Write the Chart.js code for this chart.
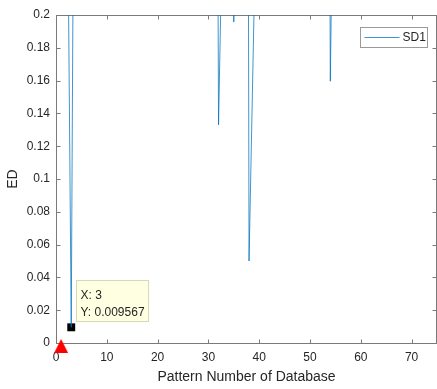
<!DOCTYPE html>
<html>
<head>
<meta charset="utf-8">
<script src="https://cdn.jsdelivr.net/npm/chart.js@4"></script>
<style>
  html, body { margin: 0; padding: 0; background: #fff; }
</style>
</head>
<body>
<canvas id="edGrafico" width="437" height="389"></canvas>
<script>
// pattern numbers and ED values (most sit above the 0.2 limit and get clipped)
const patternNo = [
   2,  3,  4,  5,  6,  7,  8,  9, 10, 11, 12, 13, 14, 15, 16, 17, 18, 19, 20,
  21, 22, 23, 24, 25, 26, 27, 28, 29, 30, 31, 32, 33, 34, 35, 36, 37, 38, 39,
  40, 41, 42, 43, 44, 45, 46, 47, 48, 49, 50, 51, 52, 53, 54, 55, 56, 57, 58,
  59, 60, 61, 62, 63, 64, 65, 66, 67, 68, 69, 70, 71, 72, 73, 74
];
const edValues = [
  0.38, 0.009567, 0.6, 0.85, 1.1, 0.9, 1.2, 0.95, 1.05, 0.8, 1.3, 1.0, 0.9, 1.15, 0.7, 0.95, 1.25, 1.0, 0.85,
  1.1, 0.9, 1.2, 0.75, 1.0, 1.3, 0.95, 1.1, 0.8, 1.05, 0.9, 0.133, 0.3, 0.7, 0.1957, 0.65, 1.5, 0.05, 0.205,
  0.8, 1.0, 1.2, 0.9, 1.1, 0.85, 1.25, 0.95, 1.05, 0.8, 1.15, 0.9, 1.2, 1.0, 0.1596, 0.4, 0.9, 1.1, 0.85,
  1.2, 0.95, 1.05, 0.8, 1.3, 1.0, 0.9, 1.15, 0.75, 1.05, 1.2, 0.9, 1.0, 0.85, 1.1, 0.95
];
const xTicks = [0, 10, 20, 30, 40, 50, 60, 70];
const yTicks = [0, 0.02, 0.04, 0.06, 0.08, 0.1, 0.12, 0.14, 0.16, 0.18, 0.2];
const queryPoint = [1, 0];
const tipPoint = [3, 0.009567];

const axisColor = '#7a7a7a';
const textColor = '#262626';
const lineColor = 'rgba(0, 114, 189, 0.75)';
Chart.defaults.font.family = "'Liberation Sans', Arial, sans-serif";
Chart.defaults.font.size = 12;
Chart.defaults.color = textColor;

// red triangle marker, drawn a bit below its centre like the original
const tri = document.createElement('canvas');
tri.width = 14;
tri.height = 28;
const tc = tri.getContext('2d');
tc.fillStyle = '#ff0000';
tc.beginPath();
tc.moveTo(7, 10);
tc.lineTo(14, 24);
tc.lineTo(0, 24);
tc.closePath();
tc.fill();

const moldura = {
  id: 'moldura',
  beforeDatasetsDraw(chart) {
    const ctx = chart.ctx;
    const a = chart.chartArea;
    const L = Math.round(a.left) + 0.5, R = Math.round(a.right) - 0.5;
    const T = Math.round(a.top) + 0.5, B = Math.round(a.bottom) + 0.5;
    ctx.save();
    ctx.strokeStyle = axisColor;
    ctx.lineWidth = 1;
    ctx.strokeRect(L, T, R - L, B - T);
    ctx.beginPath();
    xTicks.forEach(v => {
      const px = Math.round(chart.scales.x.getPixelForValue(v)) + 0.5;
      ctx.moveTo(px, B); ctx.lineTo(px, B - 4);
      ctx.moveTo(px, T); ctx.lineTo(px, T + 4);
    });
    yTicks.forEach(v => {
      const py = Math.round(chart.scales.y.getPixelForValue(v)) + 0.5;
      ctx.moveTo(L, py); ctx.lineTo(L + 4, py);
      ctx.moveTo(R, py); ctx.lineTo(R - 4, py);
    });
    ctx.stroke();
    ctx.restore();
  },
  afterDraw(chart) {
    const ctx = chart.ctx;
    const a = chart.chartArea;
    ctx.save();
    // legend
    const bx = Math.round(a.right) - 76.5, by = Math.round(a.top) + 12.5;
    ctx.fillStyle = '#fff';
    ctx.fillRect(bx, by, 67, 20);
    ctx.strokeStyle = '#9a9a9a';
    ctx.lineWidth = 1;
    ctx.strokeRect(bx, by, 67, 20);
    ctx.strokeStyle = lineColor;
    ctx.beginPath();
    ctx.moveTo(bx + 4, by + 10);
    ctx.lineTo(bx + 39, by + 10);
    ctx.stroke();
    ctx.fillStyle = textColor;
    ctx.font = "12px 'Liberation Sans', Arial, sans-serif";
    ctx.textBaseline = 'middle';
    ctx.fillText(chart.data.datasets[0].label, bx + 42, by + 10.5);

    // data tip
    const px = chart.scales.x.getPixelForValue(tipPoint[0]);
    const py = chart.scales.y.getPixelForValue(tipPoint[1]);
    const l1 = 'X: ' + tipPoint[0];
    const l2 = 'Y: ' + tipPoint[1];
    const w = Math.max(ctx.measureText(l1).width, ctx.measureText(l2).width) + 8;
    const tx = Math.round(px + 5) + 0.5, ty = Math.round(py - 47) + 0.5;
    ctx.fillStyle = '#ffffe1';
    ctx.fillRect(tx, ty, w, 41);
    ctx.strokeStyle = '#d8d8b8';
    ctx.strokeRect(tx, ty, w, 41);
    ctx.fillStyle = textColor;
    ctx.textBaseline = 'alphabetic';
    ctx.fillText(l1, tx + 4, ty + 18);
    ctx.fillText(l2, tx + 4, ty + 35);
    ctx.restore();
  }
};

const grafico = new Chart(document.getElementById('edGrafico'), {
  type: 'scatter',
  data: {
    datasets: [
      {
        label: 'SD1',
        data: patternNo.map((p, i) => ({ x: p, y: edValues[i] })),
        showLine: true,
        borderColor: lineColor,
        borderWidth: 1,
        pointRadius: 0
      },
      {
        label: 'query',
        data: [{ x: queryPoint[0], y: queryPoint[1] }],
        pointStyle: tri,
        pointRadius: 7,
        clip: false
      },
      {
        label: 'tip',
        data: [{ x: tipPoint[0], y: tipPoint[1] }],
        pointStyle: 'rect',
        pointRadius: 5.6,
        backgroundColor: '#000',
        borderColor: '#000',
        borderWidth: 0,
        clip: false
      }
    ]
  },
  options: {
    responsive: false,
    animation: false,
    devicePixelRatio: 1,
    layout: { autoPadding: false, padding: { top: 15, right: 0, left: 0, bottom: 0 } },
    plugins: {
      legend: { display: false },
      tooltip: { enabled: false }
    },
    scales: {
      x: {
        type: 'linear',
        min: 0,
        max: 75,
        grid: { display: false, drawTicks: false },
        border: { display: false },
        afterBuildTicks: s => { s.ticks = xTicks.map(v => ({ value: v })); },
        afterFit: s => { s.height = 46; },
        ticks: { autoSkip: false, padding: 7, maxRotation: 0, callback: v => String(v) },
        title: {
          display: true,
          text: 'Pattern Number of Database',
          font: { size: 14 },
          padding: { top: 0, bottom: 3 }
        }
      },
      y: {
        type: 'linear',
        min: 0,
        max: 0.2,
        grid: { display: false, drawTicks: false },
        border: { display: false },
        afterBuildTicks: s => { s.ticks = yTicks.map(v => ({ value: v })); },
        afterFit: s => { s.width = 56; },
        ticks: { autoSkip: false, padding: 6, callback: v => String(v) },
        title: {
          display: true,
          text: 'ED',
          font: { size: 14 },
          padding: { top: 5, bottom: 0 }
        }
      }
    }
  },
  plugins: [moldura]
});
</script>
</body>
</html>
